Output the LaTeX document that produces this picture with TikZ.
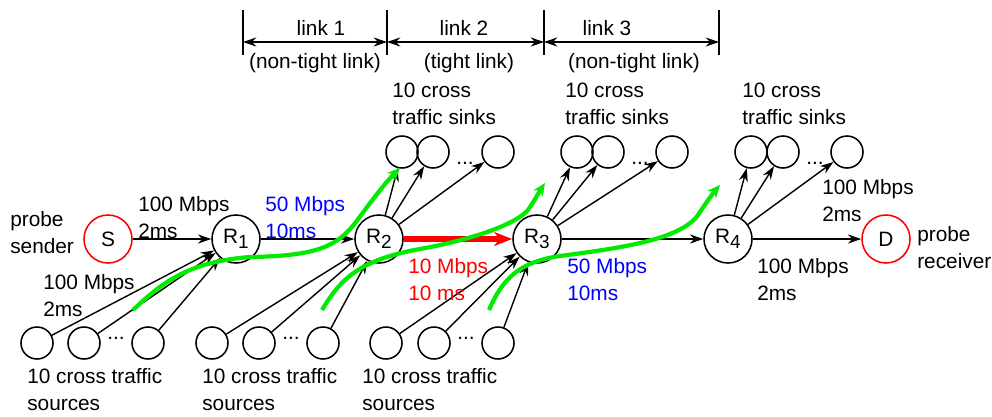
\documentclass[tikz,border=0pt]{standalone}
\usepackage{fontspec}
\setmainfont{Liberation Sans}
\usetikzlibrary{arrows.meta}

\definecolor{flowgreen}{RGB}{0,235,0}
\newcommand{\lowidx}[1]{\raisebox{-0.5ex}{\fontsize{13.5}{13.5}\selectfont #1}}

\tikzset{
  router/.style={circle,draw,line width=1.1pt,minimum size=1.2cm,inner sep=0pt},
  host/.style={router,draw=red},
  leaf/.style={circle,draw,line width=1.1pt,minimum size=0.8cm,inner sep=0pt},
  lbl/.style={anchor=base west,align=left,inner sep=0pt},
  hop/.style={line width=1pt,-{Stealth[length=9.5pt,width=6.5pt]}},
  tight/.style={draw=red,line width=4pt,-{Stealth[length=13pt,width=10pt]}},
  flow/.style={draw=flowgreen,line width=3pt,-{Stealth[length=9pt,width=8pt]}},
  span/.style={line width=1pt,{Stealth[length=9.5pt,width=6.5pt]}-{Stealth[length=9.5pt,width=6.5pt]}},
}

\begin{document}
\begin{tikzpicture}[x=0.025cm,y=-0.025cm,font=\fontsize{14.8}{18.5}\selectfont]
      \useasboundingbox (0,0) rectangle (992,416);

      % hosts and routers
      \node[host]   (S)  at (108,239) {S};
      \node[router] (R1) at (236,239) {R\lowidx{1}};
      \node[router] (R2) at (379,239) {R\lowidx{2}};
      \node[router] (R3) at (537,239) {R\lowidx{3}};
      \node[router] (R4) at (728,239) {R\lowidx{4}};
      \node[host]   (D)  at (886,239) {D};

      % cross traffic sources
      \node[leaf] (a1) at (37,343) {};
      \node[leaf] (a2) at (84,343) {};
      \node[leaf] (a3) at (148,343) {};
      \node[leaf] (b1) at (212,343) {};
      \node[leaf] (b2) at (259,343) {};
      \node[leaf] (b3) at (323,343) {};
      \node[leaf] (c1) at (386,343) {};
      \node[leaf] (c2) at (434,343) {};
      \node[leaf] (c3) at (498,343) {};
      \node[anchor=base] (adots) at (116,339) {...};
      \node[anchor=base] (bdots) at (291,339) {...};
      \node[anchor=base] (cdots) at (466,339) {...};

      % cross traffic sinks
      \node[leaf] (p1) at (402,152) {};
      \node[leaf] (p2) at (433,152) {};
      \node[leaf] (p3) at (498,152) {};
      \node[leaf] (q1) at (577,152) {};
      \node[leaf] (q2) at (608,152) {};
      \node[leaf] (q3) at (672,152) {};
      \node[leaf] (r1) at (751,152) {};
      \node[leaf] (r2) at (783,152) {};
      \node[leaf] (r3) at (847,152) {};
      \node[anchor=base] (pdots) at (465,164) {...};
      \node[anchor=base] (qdots) at (640,164) {...};
      \node[anchor=base] (rdots) at (815,164) {...};

      % path links
      \draw[hop]   (S)  -- (R1);
      \draw[hop]   (R1) -- (R2);
      \draw[tight] (R2) -- (R3);
      \draw[hop]   (R3) -- (R4);
      \draw[hop]   (R4) -- (D);

      \draw[hop] (a1) -- (R1);
      \draw[hop] (a2) -- (R1);
      \draw[hop] (a3) -- (R1);
      \draw[hop] (b1) -- (R2);
      \draw[hop] (b2) -- (R2);
      \draw[hop] (b3) -- (R2);
      \draw[hop] (c1) -- (R3);
      \draw[hop] (c2) -- (R3);
      \draw[hop] (c3) -- (R3);

      \draw[hop] (R2) -- (p1);
      \draw[hop] (R2) -- (p2);
      \draw[hop] (R2) -- (p3);
      \draw[hop] (R3) -- (q1);
      \draw[hop] (R3) -- (q2);
      \draw[hop] (R3) -- (q3);
      \draw[hop] (R4) -- (r1);
      \draw[hop] (R4) -- (r2);
      \draw[hop] (R4) -- (r3);

      % link labels (base = second line)
      \node[lbl] (sndlbl) at (10,253) {probe\\sender};
      \node[lbl] (rcvlbl) at (917,268) {probe\\receiver};
      \node[lbl] (l0) at (138,238) {100 Mbps\\2ms};
      \node[lbl] (l1) at (43,316) {100 Mbps\\2ms};
      \node[lbl,text=blue] (l2) at (265,238) {50 Mbps\\10ms};
      \node[lbl,text=red]  (l3) at (408,300) {10 Mbps\\10 ms};
      \node[lbl,text=blue] (l4) at (567,300) {50 Mbps\\10ms};
      \node[lbl] (l5) at (822,221) {100 Mbps\\2ms};
      \node[lbl] (l6) at (757,300) {100 Mbps\\2ms};

      \node[lbl] (srclbla) at (27,410) {10 cross traffic\\sources};
      \node[lbl] (srclblb) at (202,410) {10 cross traffic\\sources};
      \node[lbl] (srclblc) at (362,410) {10 cross traffic\\sources};
      \node[lbl] (snklblp) at (392,124) {10 cross\\traffic sinks};
      \node[lbl] (snklblq) at (565,124) {10 cross\\traffic sinks};
      \node[lbl] (snklblr) at (742,124) {10 cross\\traffic sinks};

      % hop extents
      \coordinate (m0) at (243,42);
      \coordinate (m1) at (387,42);
      \coordinate (m2) at (544,42);
      \coordinate (m3) at (719,42);
      \draw[line width=1pt] (m0) ++(0,-32) -- ++(0,45);
      \draw[line width=1pt] (m1) ++(0,-32) -- ++(0,45);
      \draw[line width=1pt] (m2) ++(0,-32) -- ++(0,45);
      \draw[line width=1pt] (m3) ++(0,-32) -- ++(0,45);
      \draw[span] (m0) -- (m1);
      \draw[span] (m1) -- (m2);
      \draw[span] (m2) -- (m3);
      \node[anchor=base] (k1) at (321,35) {link 1};
      \node[anchor=base] (k2) at (464,35) {link 2};
      \node[anchor=base] (k3) at (607,35) {link 3};
      \node[anchor=base] (t1) at (315,68) {(non-tight link)};
      \node[anchor=base] (t2) at (469,68) {(tight link)};
      \node[anchor=base] (t3) at (634,68) {(non-tight link)};

      % cross traffic flows
      \coordinate (g1a) at (133,310);
      \coordinate (g1b) at (400,168);
      \coordinate (g2a) at (322,310);
      \coordinate (g2b) at (545,183);
      \coordinate (g3a) at (489,310);
      \coordinate (g3b) at (720,185);
      \draw[flow] (g1a) .. controls (160,285) and (185,262) .. (250,257)
                        .. controls (320,256) and (338,245) .. (356,222)
                        .. controls (372,200) and (386,182) .. (g1b);
      \draw[flow] (g2a) .. controls (340,280) and (358,260) .. (420,249)
                        .. controls (470,240) and (515,225) .. (528,210)
                        .. controls (535,200) and (539,192) .. (g2b);
      \draw[flow] (g3a) .. controls (502,280) and (518,262) .. (560,256)
                        .. controls (620,248) and (680,240) .. (698,215)
                        .. controls (706,203) and (713,193) .. (g3b);
    \end{tikzpicture}
\end{document}
